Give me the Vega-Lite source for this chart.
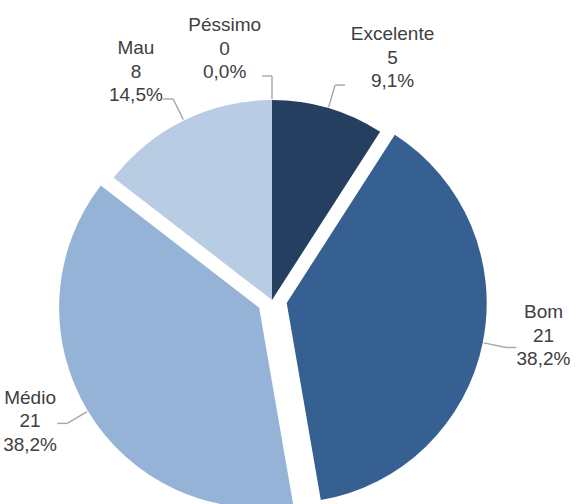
{
  "$schema": "https://vega.github.io/schema/vega-lite/v6.json",
  "width": 576,
  "height": 504,
  "padding": 0,
  "autosize": {"type": "none"},
  "background": "#ffffff",
  "config": {"view": {"stroke": null}},
  "data": {
    "values": [
      {"cat": "Excelente", "n": 5, "pct": "9,1%"},
      {"cat": "Bom", "n": 21, "pct": "38,2%"},
      {"cat": "Médio", "n": 21, "pct": "38,2%"},
      {"cat": "Mau", "n": 8, "pct": "14,5%"},
      {"cat": "Péssimo", "n": 0, "pct": "0,0%"}
    ]
  },
  "transform": [
    {"window": [{"op": "row_number", "as": "i"}]},
    {"joinaggregate": [{"op": "sum", "field": "n", "as": "total"}]},
    {"stack": "n", "groupby": [], "sort": [{"field": "i", "order": "ascending"}], "as": ["s0", "s1"]},
    {"calculate": "PI * (datum.s0 + datum.s1) / datum.total", "as": "a"},
    {"calculate": "(datum.cat === 'Bom' || datum.cat === 'Médio') ? 15 : 0", "as": "e"},
    {"calculate": "datum.e * sin(datum.a)", "as": "cx"},
    {"calculate": "datum.e * cos(datum.a)", "as": "cy"},
    {"calculate": "sin(datum.a) >= 0 ? 1 : -1", "as": "side"},
    {"calculate": "datum.cx + 201 * sin(datum.a)", "as": "x1"},
    {"calculate": "datum.cy + 201 * cos(datum.a)", "as": "y1"},
    {"calculate": "datum.cx + 224 * sin(datum.a)", "as": "x2"},
    {"calculate": "datum.cy + 224 * cos(datum.a)", "as": "y2"},
    {"calculate": "datum.x2 + datum.side * 10", "as": "x3"},
    {"calculate": "datum.x3 + datum.side * (2 + 0.5 * 10.1 * max(length(datum.cat), length(datum.pct)))", "as": "lx"},
    {"calculate": "datum.y2 + 22 * cos(datum.a) + 11 * pow(sin(datum.a), 2) + 29", "as": "ly"},
    {"calculate": "datum.cat + '\\n' + datum.n + '\\n' + datum.pct", "as": "label"}
  ],
  "layer": [
    {
      "mark": {"type": "arc", "radius": 200, "stroke": null},
      "encoding": {
        "theta": {"field": "s0", "type": "quantitative", "scale": {"domain": [0, 55]}},
        "theta2": {"field": "s1"},
        "x": {"field": "cx", "type": "quantitative", "scale": {"domain": [-272, 304], "nice": false, "zero": false}, "axis": null},
        "y": {"field": "cy", "type": "quantitative", "scale": {"domain": [-204, 300], "nice": false, "zero": false}, "axis": null},
        "color": {
          "field": "cat",
          "type": "nominal",
          "scale": {
            "domain": ["Excelente", "Bom", "Médio", "Mau", "Péssimo"],
            "range": ["#243F60", "#366092", "#95B3D7", "#B8CCE4", "#DCE6F2"]
          },
          "legend": null
        }
      }
    },
    {
      "mark": {"type": "rule", "color": "#A6A6A6", "strokeWidth": 1.4},
      "encoding": {
        "x": {"field": "x1", "type": "quantitative"},
        "y": {"field": "y1", "type": "quantitative"},
        "x2": {"field": "x2"},
        "y2": {"field": "y2"}
      }
    },
    {
      "mark": {"type": "rule", "color": "#A6A6A6", "strokeWidth": 1.4},
      "encoding": {
        "x": {"field": "x2", "type": "quantitative"},
        "y": {"field": "y2", "type": "quantitative"},
        "x2": {"field": "x3"},
        "y2": {"field": "y2"}
      }
    },
    {
      "mark": {
        "type": "text",
        "align": "center",
        "baseline": "middle",
        "lineBreak": "\n",
        "font": "Liberation Sans, Arial, sans-serif",
        "fontSize": 19,
        "lineHeight": 23.5,
        "color": "#404040"
      },
      "encoding": {
        "x": {"field": "lx", "type": "quantitative"},
        "y": {"field": "ly", "type": "quantitative"},
        "text": {"field": "label", "type": "nominal"}
      }
    }
  ]
}
